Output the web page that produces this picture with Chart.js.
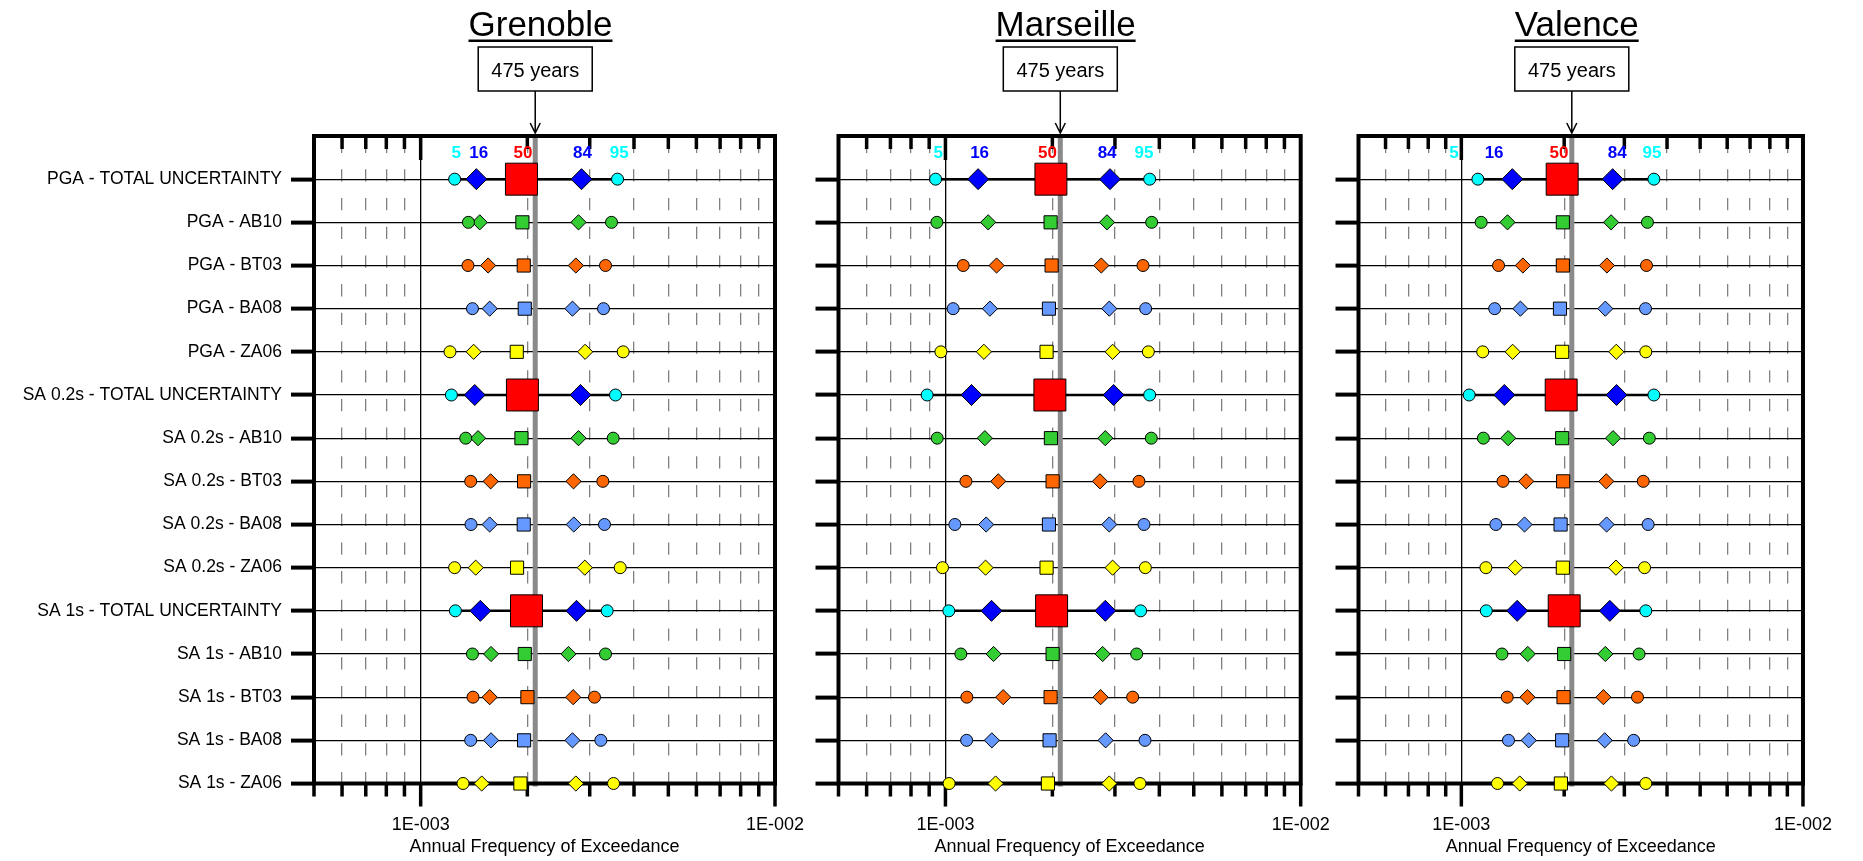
<!DOCTYPE html>
<html><head><meta charset="utf-8">
<script src="https://cdn.jsdelivr.net/npm/chart.js@4.4.0/dist/chart.umd.min.js"></script>
<style>
html,body{margin:0;padding:0;background:#fff;}
#wrap{position:relative;width:1863px;height:861px;overflow:hidden;background:#fff;}
canvas{position:absolute;left:0;top:0;}
</style></head><body>
<div id="wrap">
<canvas id="c0" width="1863" height="861"></canvas>
<canvas id="c1" width="1863" height="861"></canvas>
<canvas id="c2" width="1863" height="861"></canvas>
</div>
<script>
// ---------------- DATA ----------------
const ROWS = ['PGA - TOTAL UNCERTAINTY','PGA - AB10','PGA - BT03','PGA - BA08','PGA - ZA06',
  'SA 0.2s - TOTAL UNCERTAINTY','SA 0.2s - AB10','SA 0.2s - BT03','SA 0.2s - BA08','SA 0.2s - ZA06',
  'SA 1s - TOTAL UNCERTAINTY','SA 1s - AB10','SA 1s - BT03','SA 1s - BA08','SA 1s - ZA06'];
const CITIES = ['Grenoble','Marseille','Valence'];
const PERCENTILES = ['5','16','50','84','95'];
const RETURN_PERIOD = 475;
const RETURN_LABEL = '475 years';
const X_TITLE = 'Annual Frequency of Exceedance';
const X_TICKS = [5e-4,6e-4,7e-4,8e-4,9e-4,1e-3,2e-3,3e-3,4e-3,5e-3,6e-3,7e-3,8e-3,9e-3,1e-2];
const X_TICK_LABELS = {'0.001':'1E-003','0.01':'1E-002'};

// Grenoble (annual frequency of exceedance)
const GRENOBLE_P05 = [1.247e-3,1.364e-3,1.360e-3,1.400e-3,1.210e-3,1.221e-3,1.340e-3,1.384e-3,1.387e-3,1.247e-3,1.253e-3,1.400e-3,1.405e-3,1.384e-3,1.317e-3];
const GRENOBLE_P16 = [1.436e-3,1.468e-3,1.550e-3,1.566e-3,1.411e-3,1.421e-3,1.452e-3,1.576e-3,1.566e-3,1.430e-3,1.474e-3,1.580e-3,1.566e-3,1.580e-3,1.487e-3];
const GRENOBLE_P50 = [1.925e-3,1.937e-3,1.954e-3,1.967e-3,1.867e-3,1.937e-3,1.925e-3,1.958e-3,1.954e-3,1.871e-3,1.989e-3,1.967e-3,2.001e-3,1.958e-3,1.912e-3];
const GRENOBLE_P84 = [2.844e-3,2.789e-3,2.741e-3,2.682e-3,2.912e-3,2.825e-3,2.789e-3,2.700e-3,2.705e-3,2.906e-3,2.753e-3,2.613e-3,2.694e-3,2.682e-3,2.741e-3];
const GRENOBLE_P95 = [3.594e-3,3.456e-3,3.324e-3,3.281e-3,3.729e-3,3.547e-3,3.494e-3,3.267e-3,3.302e-3,3.657e-3,3.360e-3,3.324e-3,3.094e-3,3.225e-3,3.502e-3];
const GRENOBLE_LABEL_AT = [1.261e-3,1.458e-3,1.945e-3,2.863e-3,3.633e-3];

// Marseille
const MARSEILLE_P05 = [0.938e-3,0.946e-3,1.122e-3,1.051e-3,0.971e-3,0.888e-3,0.948e-3,1.142e-3,1.063e-3,0.981e-3,1.022e-3,1.105e-3,1.149e-3,1.147e-3,1.024e-3];
const MARSEILLE_P16 = [1.236e-3,1.319e-3,1.393e-3,1.334e-3,1.283e-3,1.184e-3,1.291e-3,1.408e-3,1.302e-3,1.297e-3,1.348e-3,1.366e-3,1.454e-3,1.351e-3,1.384e-3];
const MARSEILLE_P50 = [1.981e-3,1.977e-3,1.990e-3,1.956e-3,1.926e-3,1.968e-3,1.981e-3,2.003e-3,1.956e-3,1.926e-3,1.990e-3,2.003e-3,1.977e-3,1.964e-3,1.943e-3];
const MARSEILLE_P84 = [2.905e-3,2.849e-3,2.746e-3,2.892e-3,2.955e-3,2.974e-3,2.818e-3,2.722e-3,2.892e-3,2.955e-3,2.818e-3,2.770e-3,2.734e-3,2.824e-3,2.892e-3];
const MARSEILLE_P95 = [3.757e-3,3.806e-3,3.598e-3,3.661e-3,3.725e-3,3.757e-3,3.797e-3,3.505e-3,3.621e-3,3.653e-3,3.543e-3,3.453e-3,3.365e-3,3.645e-3,3.528e-3];
const MARSEILLE_LABEL_AT = [0.954e-3,1.248e-3,1.938e-3,2.851e-3,3.621e-3];

// Valence
const VALENCE_P05 = [1.118e-3,1.143e-3,1.285e-3,1.252e-3,1.155e-3,1.054e-3,1.160e-3,1.324e-3,1.262e-3,1.180e-3,1.183e-3,1.315e-3,1.362e-3,1.374e-3,1.276e-3];
const VALENCE_P16 = [1.410e-3,1.365e-3,1.514e-3,1.489e-3,1.413e-3,1.336e-3,1.371e-3,1.548e-3,1.531e-3,1.438e-3,1.457e-3,1.565e-3,1.561e-3,1.575e-3,1.482e-3];
const VALENCE_P50 = [1.973e-3,1.982e-3,1.982e-3,1.944e-3,1.973e-3,1.960e-3,1.973e-3,1.986e-3,1.952e-3,1.982e-3,2.000e-3,2.000e-3,1.991e-3,1.973e-3,1.956e-3];
const VALENCE_P84 = [2.773e-3,2.744e-3,2.668e-3,2.639e-3,2.841e-3,2.847e-3,2.780e-3,2.656e-3,2.662e-3,2.835e-3,2.720e-3,2.639e-3,2.605e-3,2.628e-3,2.750e-3];
const VALENCE_P95 = [3.661e-3,3.505e-3,3.483e-3,3.460e-3,3.467e-3,3.661e-3,3.550e-3,3.408e-3,3.521e-3,3.438e-3,3.467e-3,3.313e-3,3.278e-3,3.194e-3,3.467e-3];
const VALENCE_LABEL_AT = [0.952e-3,1.247e-3,1.931e-3,2.859e-3,3.614e-3];

// ---------------- STYLE ----------------
const FONT = "'Liberation Sans', Arial, Helvetica, sans-serif";
Chart.defaults.font.family = FONT;
Chart.defaults.color = '#000';
const MODEL_COLORS = {AB10:'#33CC33', BT03:'#FF6600', BA08:'#6699FF', ZA06:'#FFFF00'};
const TOTAL_COLORS = ['#00FFFF','#0000FF','#FF0000','#0000FF','#00FFFF'];
const PCT_STYLES = ['circle','rectRot','rect','rectRot','circle'];
const TOTAL_RADII = [6, 10.5, 22.6, 10.5, 6];
const MODEL_RADII = [6, 7.6, 9.3, 7.6, 6];
const X_MIN = 5e-4, X_MAX = 1e-2;
const AREA_TOP = 136, AREA_BOTTOM = 783.5, Y_AXIS_W = 300, X_AXIS_H = 74, CANVAS_W = 1863, CANVAS_H = 861;

const PANELS = [
  {id:'c0', city:CITIES[0], left:314, right:775, showY:true,
   vals:[GRENOBLE_P05,GRENOBLE_P16,GRENOBLE_P50,GRENOBLE_P84,GRENOBLE_P95], labelAt:GRENOBLE_LABEL_AT},
  {id:'c1', city:CITIES[1], left:838.5, right:1300.7, showY:false,
   vals:[MARSEILLE_P05,MARSEILLE_P16,MARSEILLE_P50,MARSEILLE_P84,MARSEILLE_P95], labelAt:MARSEILLE_LABEL_AT},
  {id:'c2', city:CITIES[2], left:1358.5, right:1819, showY:false,
   vals:[VALENCE_P05,VALENCE_P16,VALENCE_P50,VALENCE_P84,VALENCE_P95], labelAt:VALENCE_LABEL_AT}
];

const modelOf = r => r.split(' - ')[1];
const isTotal = r => modelOf(r) === 'TOTAL UNCERTAINTY';
const isDecade = v => Math.abs(Math.log10(v) - Math.round(Math.log10(v))) < 1e-6;
const isOneE3 = v => Math.abs(Math.log10(v) + 3) < 1e-6;

function panelPlugin(p) {
  return {
    id: 'panelDeco',
    beforeDatasetsDraw(chart) {
      const {ctx, chartArea: a, scales: {x}} = chart;
      ctx.save();
      // return-period reference line
      const xr = x.getPixelForValue(1 / RETURN_PERIOD);
      ctx.strokeStyle = '#8a8a8a'; ctx.lineWidth = 5;
      ctx.beginPath(); ctx.moveTo(xr, a.top); ctx.lineTo(xr, a.bottom + 3); ctx.stroke();
      // frame
      ctx.strokeStyle = '#000'; ctx.lineWidth = 4;
      ctx.strokeRect(a.left, a.top, a.right - a.left, a.bottom - a.top);
      // x tick marks (top inside, bottom outside)
      ctx.lineWidth = 3.5; ctx.lineCap = 'butt';
      ctx.beginPath();
      X_TICKS.forEach(v => {
        const px = x.getPixelForValue(v);
        const major = isDecade(v);
        if (v > X_MIN * 1.0001 && v < X_MAX * 0.9999) {
          ctx.moveTo(px, a.top); ctx.lineTo(px, a.top + (major ? 24 : 13));
        }
        ctx.moveTo(px, a.bottom); ctx.lineTo(px, a.bottom + (major ? 23 : 13));
      });
      ctx.stroke();
      ctx.restore();
    },
    afterDraw(chart) {
      const {ctx, chartArea: a, scales: {x}} = chart;
      ctx.save();
      // city title, underlined
      const cx = (a.left + a.right) / 2 - 4;
      ctx.fillStyle = '#000';
      ctx.font = '35px ' + FONT;
      ctx.textAlign = 'center'; ctx.textBaseline = 'alphabetic';
      ctx.fillText(p.city, cx, 36);
      const tw = ctx.measureText(p.city).width;
      ctx.fillRect(cx - tw / 2, 39.5, tw, 2.5);
      // return period box + arrow
      const xr = x.getPixelForValue(1 / RETURN_PERIOD);
      ctx.fillStyle = '#fff';
      ctx.fillRect(xr - 57, 47, 114, 44);
      ctx.strokeStyle = '#000'; ctx.lineWidth = 1.5;
      ctx.strokeRect(xr - 57, 47, 114, 44);
      ctx.fillStyle = '#000';
      ctx.font = '20px ' + FONT;
      ctx.fillText(RETURN_LABEL, xr, 76.5);
      ctx.beginPath();
      ctx.moveTo(xr, 91); ctx.lineTo(xr, a.top - 3);
      ctx.moveTo(xr - 5, a.top - 13); ctx.lineTo(xr, a.top - 3); ctx.lineTo(xr + 5, a.top - 13);
      ctx.stroke();
      // percentile labels
      ctx.font = 'bold 17px ' + FONT;
      ctx.textBaseline = 'middle';
      PERCENTILES.forEach((t, k) => {
        ctx.fillStyle = TOTAL_COLORS[k];
        ctx.fillText(t, x.getPixelForValue(p.labelAt[k]), a.top + 17);
      });
      ctx.restore();
    }
  };
}

function buildDatasets(p) {
  const ds = [];
  // connecting lines for total-uncertainty rows
  ROWS.forEach((r, i) => {
    if (!isTotal(r)) return;
    ds.push({
      type: 'scatter', label: r + ' range', showLine: true,
      data: p.vals.map(arr => ({x: arr[i], y: i})),
      borderColor: '#000', borderWidth: 2.5, pointRadius: 0, clip: false, order: 2
    });
  });
  // markers: one dataset per percentile
  p.vals.forEach((arr, k) => {
    ds.push({
      type: 'scatter', label: PERCENTILES[k],
      data: arr.map((v, i) => ({x: v, y: i})),
      pointStyle: PCT_STYLES[k],
      pointRadius: ROWS.map(r => isTotal(r) ? TOTAL_RADII[k] : MODEL_RADII[k]),
      pointHoverRadius: ROWS.map(r => isTotal(r) ? TOTAL_RADII[k] : MODEL_RADII[k]),
      pointBackgroundColor: ROWS.map(r => isTotal(r) ? TOTAL_COLORS[k] : MODEL_COLORS[modelOf(r)]),
      pointBorderColor: '#000', pointBorderWidth: 1,
      showLine: false, clip: false, order: k === 2 ? 0 : 1
    });
  });
  return ds;
}

PANELS.forEach(p => {
  new Chart(document.getElementById(p.id), {
    type: 'scatter',
    data: {datasets: buildDatasets(p)},
    plugins: [panelPlugin(p)],
    options: {
      responsive: false, animation: false, devicePixelRatio: 1,
      events: [],
      layout: {padding: {left: p.left - Y_AXIS_W, right: CANVAS_W - p.right, top: AREA_TOP, bottom: CANVAS_H - AREA_BOTTOM - X_AXIS_H}},
      plugins: {legend: {display: false}, tooltip: {enabled: false}, title: {display: false}},
      scales: {
        x: {
          type: 'logarithmic', position: 'bottom', min: X_MIN, max: X_MAX,
          afterBuildTicks: s => { s.ticks = X_TICKS.map(v => ({value: v})); },
          afterFit: s => { s.height = X_AXIS_H; },
          ticks: {
            autoSkip: false, maxRotation: 0, minRotation: 0, padding: 31,
            font: {size: 18}, color: '#000',
            callback: v => X_TICK_LABELS[String(+v.toPrecision(6))] || ''
          },
          grid: {
            drawTicks: false,
            color: c => {
              const v = c.tick && c.tick.value;
              if (!v) return 'rgba(0,0,0,0)';
              if (isOneE3(v)) return '#000';
              if (v <= X_MIN * 1.0001 || v >= X_MAX * 0.9999) return 'rgba(0,0,0,0)';
              return '#808080';
            },
            lineWidth: 1.3
          },
          border: {
            display: false,
            dash: c => (c.tick && isOneE3(c.tick.value)) ? [] : [12.3, 16.4],
            dashOffset: 24.1
          },
          title: {display: true, text: X_TITLE, font: {size: 18}, color: '#000', padding: {top: 0, bottom: 0}}
        },
        y: {
          type: 'linear', min: -1, max: 14, reverse: true,
          afterBuildTicks: s => { s.ticks = ROWS.map((_, i) => ({value: i})); },
          afterFit: s => { s.width = Y_AXIS_W; },
          ticks: {
            autoSkip: false, padding: 9, font: {size: 17.5}, color: '#000',
            callback: v => p.showY ? ROWS[v] : ''
          },
          grid: {color: '#000', lineWidth: 1.2, tickLength: 23, tickWidth: 4, tickColor: '#000', drawTicks: true},
          border: {display: false}
        }
      }
    }
  });
});
</script>
</body></html>
